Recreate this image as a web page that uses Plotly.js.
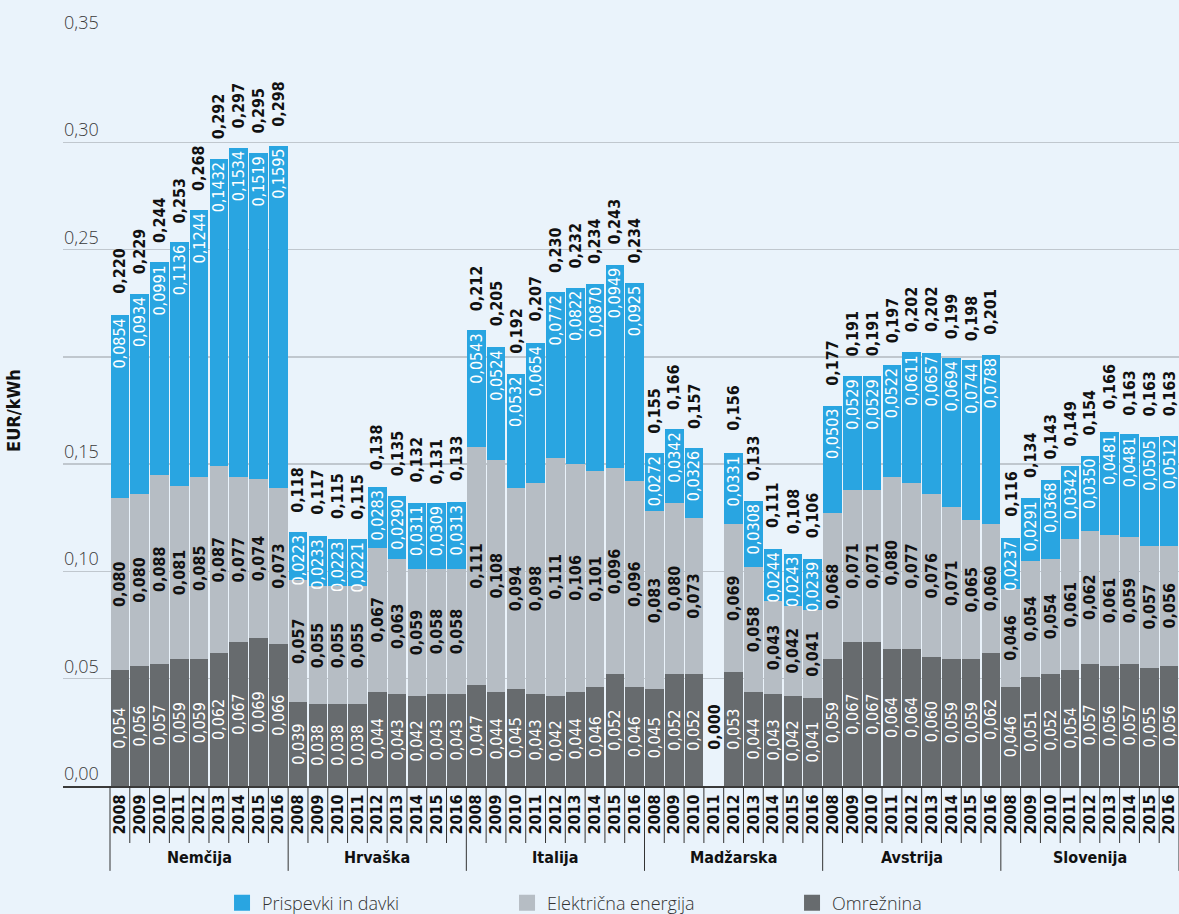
<!DOCTYPE html>
<html>
<head>
<meta charset="utf-8">
<script src="https://cdn.plot.ly/plotly-3.0.1.min.js"></script>
<style>
html,body{margin:0;padding:0;background:#EAF3FB;}
#chart{width:1179px;height:914px;}
</style>
</head>
<body>
<div id="chart"></div>
<script>
// ---- DATA ----
const countries = ['Nemčija', 'Hrvaška', 'Italija', 'Madžarska', 'Avstrija', 'Slovenija'];
const years = ['2008', '2009', '2010', '2011', '2012', '2013', '2014', '2015', '2016'];

// Omrežnina (network charge), per country 2008-2016
const omreznina = [
  0.054, 0.056, 0.057, 0.059, 0.059, 0.062, 0.067, 0.069, 0.066,   // Nemčija
  0.039, 0.038, 0.038, 0.038, 0.044, 0.043, 0.042, 0.043, 0.043,   // Hrvaška
  0.047, 0.044, 0.045, 0.043, 0.042, 0.044, 0.046, 0.052, 0.046,   // Italija
  0.045, 0.052, 0.052, 0.000, 0.053, 0.044, 0.043, 0.042, 0.041,   // Madžarska
  0.059, 0.067, 0.067, 0.064, 0.064, 0.060, 0.059, 0.059, 0.062,   // Avstrija
  0.046, 0.051, 0.052, 0.054, 0.057, 0.056, 0.057, 0.055, 0.056    // Slovenija
];
// Električna energija
const energija = [
  0.080, 0.080, 0.088, 0.081, 0.085, 0.087, 0.077, 0.074, 0.073,
  0.057, 0.055, 0.055, 0.055, 0.067, 0.063, 0.059, 0.058, 0.058,
  0.111, 0.108, 0.094, 0.098, 0.111, 0.106, 0.101, 0.096, 0.096,
  0.083, 0.080, 0.073, null,  0.069, 0.058, 0.043, 0.042, 0.041,
  0.068, 0.071, 0.071, 0.080, 0.077, 0.076, 0.071, 0.065, 0.060,
  0.046, 0.054, 0.054, 0.061, 0.062, 0.061, 0.059, 0.057, 0.056
];
// Prispevki in davki
const prispevki = [
  0.0854, 0.0934, 0.0991, 0.1136, 0.1244, 0.1432, 0.1534, 0.1519, 0.1595,
  0.0223, 0.0233, 0.0223, 0.0221, 0.0283, 0.0290, 0.0311, 0.0309, 0.0313,
  0.0543, 0.0524, 0.0532, 0.0654, 0.0772, 0.0822, 0.0870, 0.0949, 0.0925,
  0.0272, 0.0342, 0.0326, null,   0.0331, 0.0308, 0.0244, 0.0243, 0.0239,
  0.0503, 0.0529, 0.0529, 0.0522, 0.0611, 0.0657, 0.0694, 0.0744, 0.0788,
  0.0237, 0.0291, 0.0368, 0.0342, 0.0350, 0.0481, 0.0481, 0.0505, 0.0512
];
// Skupaj (totals as labelled)
const skupaj = [
  0.220, 0.229, 0.244, 0.253, 0.268, 0.292, 0.297, 0.295, 0.298,
  0.118, 0.117, 0.115, 0.115, 0.138, 0.135, 0.132, 0.131, 0.133,
  0.212, 0.205, 0.192, 0.207, 0.230, 0.232, 0.234, 0.243, 0.234,
  0.155, 0.166, 0.157, null,  0.156, 0.133, 0.111, 0.108, 0.106,
  0.177, 0.191, 0.191, 0.197, 0.202, 0.202, 0.199, 0.198, 0.201,
  0.116, 0.134, 0.143, 0.149, 0.154, 0.166, 0.163, 0.163, 0.163
];
const yTickVals = [0, 0.05, 0.10, 0.15, 0.20, 0.25, 0.30, 0.35];
const yTickText = ['0,00', '0,05', '0,10', '0,15', '', '0,25', '0,30', '0,35'];
const seriesNames = ['Omrežnina', 'Električna energija', 'Prispevki in davki'];
const yTitle = 'EUR/kWh';

// ---- BUILD ----
const COND = '"Liberation Sans Narrow", "DejaVu Sans Condensed", Roboto, sans-serif';
const LIGHT = '"Open Sans", Lato, sans-serif';
const nY = years.length;
const idx = [], xTickText = [];
countries.forEach((c, ci) => years.forEach((yr, yi) => { idx.push(ci * nY + yi); xTickText.push(yr); }));

const fmt = (v, d) => (v === null || v === undefined) ? '' : v.toFixed(d).replace('.', ',');

const cDark = '#676B6E', cGray = '#B6BDC4', cBlue = '#29A5E1';
const colors = [cDark, cGray, cBlue];

const traces = [
  {
    type: 'bar', name: seriesNames[0], x: idx, y: omreznina, showlegend: false,
    marker: {color: cDark},
    text: omreznina.map(v => v ? fmt(v, 3) : ''),
    textposition: 'inside', insidetextanchor: 'middle', textangle: -90,
    insidetextfont: {family: COND, size: 16, color: '#FFFFFF'},
    hoverinfo: 'skip'
  },
  {
    type: 'bar', name: seriesNames[1], x: idx, y: energija, showlegend: false,
    marker: {color: cGray},
    text: energija.map(v => fmt(v, 3)),
    textposition: 'inside', insidetextanchor: 'middle', textangle: -90,
    insidetextfont: {family: COND, size: 16, color: '#111111', weight: 'bold'},
    hoverinfo: 'skip'
  },
  {
    type: 'bar', name: seriesNames[2], x: idx, y: prispevki, showlegend: false,
    marker: {color: cBlue},
    text: prispevki.map(v => fmt(v, 4)),
    textposition: 'inside', insidetextanchor: 'end', textangle: -90,
    insidetextfont: {family: COND, size: 16, color: '#FFFFFF'},
    hoverinfo: 'skip'
  }
];
// legend entries (square markers, larger than the default bar swatch)
seriesNames.forEach((n, k) => {
  traces.push({type: 'scatter', mode: 'markers', name: n, x: [null], y: [null],
    marker: {symbol: 'square', size: 17, color: colors[k]}, hoverinfo: 'skip', showlegend: true});
});

const annotations = [];
// y tick labels above gridlines
yTickVals.forEach((v, k) => {
  if (!yTickText[k]) return;
  annotations.push({xref: 'paper', yref: 'y', x: 0, y: v, xanchor: 'left', yanchor: 'bottom',
    text: yTickText[k], showarrow: false, borderpad: 0,
    font: {family: LIGHT, size: 18, color: '#3A3A3A', weight: 300}});
});
// totals
skupaj.forEach((v, i) => {
  if (v === null) return;
  annotations.push({xref: 'x', yref: 'y', x: idx[i], y: v, xanchor: 'center', yanchor: 'bottom',
    yshift: 18, textangle: -90, text: fmt(v, 3), showarrow: false,
    font: {family: COND, size: 16, color: '#111111', weight: 'bold'}});
});
// zero values of Omrežnina
omreznina.forEach((v, i) => {
  if (v !== 0) return;
  annotations.push({xref: 'x', yref: 'y', x: idx[i], y: v, xanchor: 'center', yanchor: 'bottom',
    yshift: 34, textangle: -90, text: fmt(v, 3), showarrow: false,
    font: {family: COND, size: 16, color: '#111111', weight: 'bold'}});
});
// country labels
countries.forEach((c, ci) => {
  annotations.push({xref: 'x', yref: 'paper', x: ci * nY + (nY - 1) / 2, y: -0.095,
    xanchor: 'center', yanchor: 'middle', text: c, showarrow: false,
    font: {family: COND, size: 16, color: '#111111', weight: 'bold'}});
});

// separators under the axis
const shapes = [];
for (let k = 0; k <= idx.length; k++) {
  const isGroup = (k % nY === 0);
  shapes.push({type: 'line', xref: 'x', yref: 'paper', x0: k - 0.5, x1: k - 0.5,
    y0: 0, y1: isGroup ? -0.113 : -0.0759, line: {color: '#333333', width: 1}});
}

const layout = {
  width: 1179, height: 914,
  paper_bgcolor: '#EAF3FB', plot_bgcolor: '#EAF3FB',
  margin: {l: 63, r: 0, t: 35, b: 128, autoexpand: false},
  barmode: 'stack', bargap: 0.06,
  separators: ',.',
  uniformtext: {mode: 'show', minsize: 16},
  showlegend: true,
  xaxis: {
    range: [-2.874, idx.length - 0.5], tickmode: 'array', tickvals: idx, ticktext: xTickText,
    tickangle: -90, tickfont: {family: COND, size: 16, color: '#111111', weight: 'bold'},
    ticks: '', showgrid: false, zeroline: false, showline: true, linecolor: '#3A3A3A', linewidth: 2,
    automargin: false, fixedrange: true
  },
  yaxis: {
    range: [0, 0.35], tickmode: 'array', tickvals: yTickVals, showticklabels: false,
    showgrid: true, gridcolor: '#C0C7CE', gridwidth: 1.5, zeroline: false, ticks: '',
    automargin: false, fixedrange: true,
    title: {text: yTitle, standoff: 36, font: {family: COND, size: 18, color: '#111111', weight: 'bold'}}
  },
  legend: {
    orientation: 'h', traceorder: 'reversed', x: 0.1425, xanchor: 'left',
    yref: 'container', y: 0.012, yanchor: 'middle',
    font: {family: LIGHT, size: 18, color: '#333333', weight: 300}, entrywidth: 240,
    bgcolor: 'rgba(0,0,0,0)'
  },
  annotations: annotations,
  shapes: shapes
};

Plotly.newPlot('chart', traces, layout, {displayModeBar: false, staticPlot: true});
</script>
</body>
</html>
